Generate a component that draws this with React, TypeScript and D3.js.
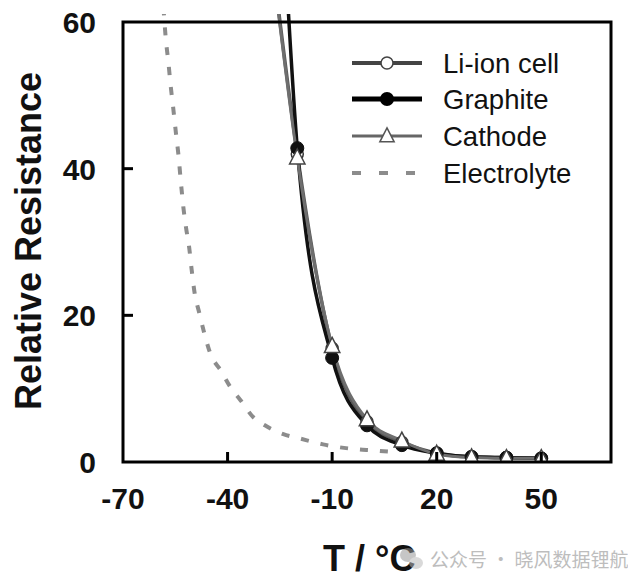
import React from "react";
import * as d3 from "d3";

// ---- data ----
const cellTemps = [-26, -20, -10, 0, 10, 20, 30, 40, 50];
const liIonCell = [64, 42, 15.5, 5.5, 2.7, 1.2, 0.7, 0.6, 0.5];
const graphiteTemps = [-23, -20, -10, 0, 10, 20, 30, 40, 50];
const graphite = [65, 42.8, 14.2, 5.0, 2.3, 1.2, 0.7, 0.6, 0.5];
const cathodeTemps = [-26, -20, -10, 0, 10, 20, 30, 40, 50];
const cathode = [63.5, 41.5, 15.8, 5.8, 2.9, 1.1, 0.6, 0.5, 0.5];
const electrolyteTemps = [-58.4, -57.7, -57, -56.3, -55.6, -54.8, -54.1, -53.4, -52.7, -51.9, -51, -50.3, -49.5, -48.1, -46.7, -45.1, -41.7, -39.3, -36.4, -32.6, -29.3, -24, -19.2, -12.6, -9.2, -2, 1, 9];
const electrolyte = [62, 57.6, 54.6, 51.2, 48.3, 44.8, 41.9, 38.2, 34.8, 31.9, 29.2, 26.2, 23.2, 20.3, 17.6, 15.0, 12.3, 10.3, 8.5, 6.1, 5.0, 3.8, 3.2, 2.4, 2.1, 1.7, 1.6, 1.3];
const xTicks = [-70, -40, -10, 20, 50];
const yTicks = [0, 20, 40, 60];
const legendLabels = ["Li-ion cell", "Graphite", "Cathode", "Electrolyte"];

const W = 628;
const H = 585;

export default function App() {
  const x = d3.scaleLinear().domain([-70, 70]).range([123, 611]);
  const y = d3.scaleLinear().domain([0, 60]).range([462, 22]);
  const [x0, x1] = x.range();
  const [y0, y1] = y.range();

  const mk = (ts: number[], vs: number[]) => ts.map((t, i) => [t, vs[i]] as [number, number]);
  const line = d3
    .line<[number, number]>()
    .x((d) => x(d[0]))
    .y((d) => y(d[1]))
    .curve(d3.curveMonotoneX);

  const cellPts = mk(cellTemps, liIonCell);
  const grPts = mk(graphiteTemps, graphite);
  const caPts = mk(cathodeTemps, cathode);
  const elPts = mk(electrolyteTemps, electrolyte);
  const inside = (d: [number, number]) => d[1] <= 60;

  const tri = (cx: number, cy: number, s: number) =>
    `M${cx},${cy - s * 0.62} L${cx + s * 0.55},${cy + s * 0.45} L${cx - s * 0.55},${cy + s * 0.45} Z`;

  const font = "'Liberation Sans', Arial, Helvetica, sans-serif";
  const legendY = [63, 99, 136, 173];
  const lgX0 = 352;
  const lgX1 = 422;
  const lgM = 387;

  return (
    <svg
      width={W}
      height={H}
      viewBox={`0 0 ${W} ${H}`}
      style={{ position: "absolute", left: 0, top: 0, background: "#fff" }}
      fontFamily={font}
    >
      <defs>
        <clipPath id="plotClip">
          <rect x={x0} y={14} width={x1 - x0} height={y0 - 14} />
        </clipPath>
      </defs>
      <rect x={0} y={0} width={W} height={H} fill="#fff" />

      {/* data */}
      <g clipPath="url(#plotClip)">
        <path d={line(elPts) || ""} fill="none" stroke="#8c8c8c" strokeWidth={4} strokeDasharray="8,12" />
        <path d={line(cellPts) || ""} fill="none" stroke="#5a5a5a" strokeWidth={3.5} />
        <path d={line(grPts) || ""} fill="none" stroke="#111" strokeWidth={3.5} />
        <path d={line(caPts) || ""} fill="none" stroke="#6e6e6e" strokeWidth={3} />
        {cellPts.filter(inside).map((d, i) => (
          <circle key={"c" + i} cx={x(d[0])} cy={y(d[1])} r={6} fill="#fff" stroke="#333" strokeWidth={1.5} />
        ))}
        {grPts.filter(inside).map((d, i) => (
          <circle key={"g" + i} cx={x(d[0])} cy={y(d[1])} r={6.5} fill="#111" stroke="#111" strokeWidth={1} />
        ))}
        {caPts.filter(inside).map((d, i) => (
          <path key={"t" + i} d={tri(x(d[0]), y(d[1]), 14)} fill="#fff" stroke="#444" strokeWidth={1.5} />
        ))}
      </g>

      {/* frame */}
      <rect x={x0} y={y1} width={x1 - x0} height={y0 - y1} fill="none" stroke="#000" strokeWidth={3} />

      {/* x ticks */}
      {xTicks.map((t) => (
        <g key={"xt" + t}>
          {t > -70 && <line x1={x(t)} x2={x(t)} y1={y0} y2={y0 - 10} stroke="#000" strokeWidth={3} />}
          <text x={x(t)} y={509} textAnchor="middle" fontSize={30} fontWeight="bold" fill="#111">
            {t}
          </text>
        </g>
      ))}
      {/* y ticks */}
      {yTicks.map((t) => (
        <g key={"yt" + t}>
          {t > 0 && t < 60 && <line x1={x0} x2={x0 + 10} y1={y(t)} y2={y(t)} stroke="#000" strokeWidth={3} />}
          <text x={96} y={y(t) + 11} textAnchor="end" fontSize={30} fontWeight="bold" fill="#111">
            {t}
          </text>
        </g>
      ))}

      {/* axis titles */}
      <text
        transform="translate(41,241) rotate(-90)"
        textAnchor="middle"
        fontSize={36}
        fontWeight="bold"
        fill="#111"
      >
        Relative Resistance
      </text>
      <text x={323} y={571} fontSize={36} fontWeight="bold" fill="#111">
        T / °C
      </text>

      {/* legend */}
      <g>
        <line x1={lgX0} x2={lgX1} y1={legendY[0]} y2={legendY[0]} stroke="#444" strokeWidth={4} />
        <circle cx={lgM} cy={legendY[0]} r={6} fill="#fff" stroke="#444" strokeWidth={1.5} />
        <line x1={lgX0} x2={lgX1} y1={legendY[1]} y2={legendY[1]} stroke="#000" strokeWidth={5} />
        <circle cx={lgM} cy={legendY[1]} r={7} fill="#000" />
        <line x1={lgX0} x2={lgX1} y1={legendY[2]} y2={legendY[2]} stroke="#666" strokeWidth={3} />
        <path d={tri(lgM, legendY[2], 13)} fill="#fff" stroke="#555" strokeWidth={1.5} />
        <line x1={lgX0} x2={lgX1} y1={legendY[3]} y2={legendY[3]} stroke="#8c8c8c" strokeWidth={4} strokeDasharray="9,18" />
        {legendLabels.map((l, i) => (
          <text key={l} x={443} y={legendY[i] + 10} fontSize={27.5} fill="#111">
            {l}
          </text>
        ))}
      </g>

      {/* watermark */}
      <g opacity={0.55}>
        <ellipse cx={408} cy={555} rx={8} ry={7} fill="#999" />
        <ellipse cx={416} cy={563} rx={7} ry={6} fill="#bbb" />
        <text x={430} y={567} fontSize={19} fill="#888" fontFamily="'Noto Sans CJK SC', sans-serif">
          公众号 · 晓风数据锂航
        </text>
      </g>
    </svg>
  );
}
